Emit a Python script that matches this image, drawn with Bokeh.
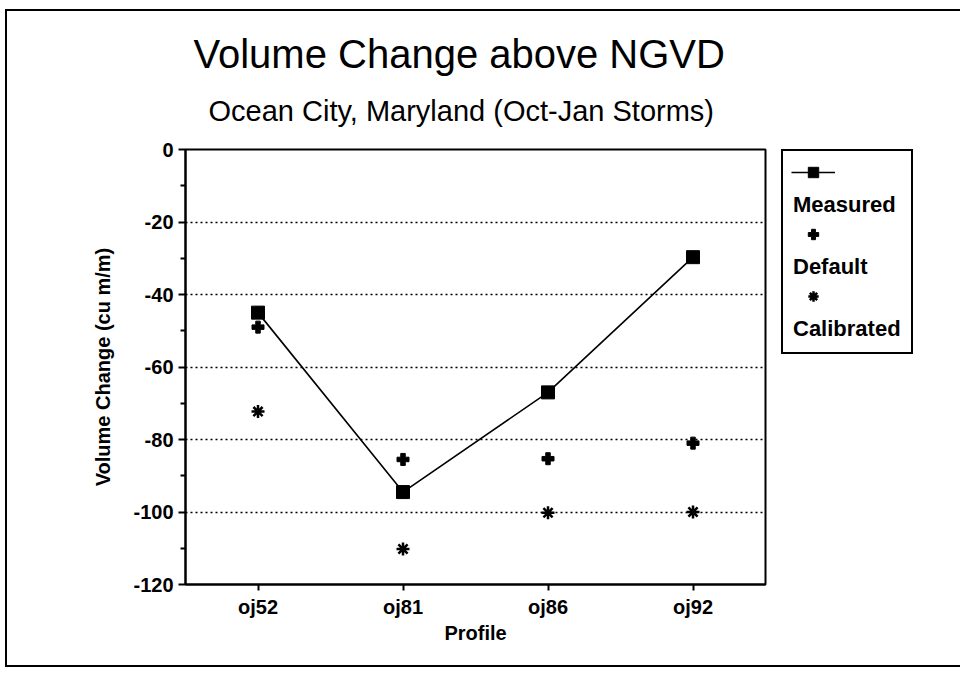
from bokeh.plotting import figure
from bokeh.layouts import row
from bokeh.models import FactorRange, Range1d, FixedTicker, Legend, LegendItem, Title
from bokeh.embed import file_html
from bokeh.resources import INLINE

profiles = ["oj52", "oj81", "oj86", "oj92"]
measured = [-45.0, -94.5, -67.0, -29.7]
default = [-49.0, -85.5, -85.3, -81.0]
calibrated = [-72.3, -110.2, -100.2, -100.0]
series_names = ["Measured", "Default", "Calibrated"]
y_ticks = [0, -20, -40, -60, -80, -100, -120]
y_minor = [-10, -30, -50, -70, -90, -110]
grid_ticks = [-20, -40, -60, -80, -100]

FONT = "Liberation Sans"
NAN = float("nan")

p = figure(x_range=FactorRange(*profiles, range_padding=0), y_range=Range1d(-120, 0),
           width=775, height=673, output_backend="svg", toolbar_location=None,
           title=None, min_border_left=185, min_border_right=10,
           min_border_top=149, min_border_bottom=89)

p.add_layout(Title(text="Ocean City, Maryland (Oct-Jan Storms)", text_font=FONT,
                   text_font_size="29px", text_font_style="normal", text_color="black",
                   align="left", offset=23, standoff=45), "above")
p.add_layout(Title(text="Volume Change above NGVD", text_font=FONT,
                   text_font_size="40px", text_font_style="normal", text_color="black",
                   align="left", offset=8, standoff=-10), "above")

p.outline_line_color = "black"
p.outline_line_width = 2
p.background_fill_color = "white"
p.border_fill_color = None

p.xgrid.visible = False
p.ygrid.ticker = FixedTicker(ticks=grid_ticks)
p.ygrid.grid_line_color = "black"
p.ygrid.grid_line_dash = "2 3"
p.ygrid.grid_line_width = 1.3

p.yaxis.ticker = FixedTicker(ticks=y_ticks, minor_ticks=y_minor)
p.yaxis.major_label_overrides = {t: str(t) for t in y_ticks}
for ax in (p.xaxis, p.yaxis):
    ax.axis_line_width = 2
    ax.axis_line_color = "black"
    ax.major_tick_in = 0
    ax.major_tick_out = 7
    ax.major_tick_line_width = 2
    ax.minor_tick_in = 0
    ax.minor_tick_out = 5
    ax.minor_tick_line_width = 2
    ax.major_label_text_font = FONT
    ax.major_label_text_font_style = "bold"
    ax.major_label_text_font_size = "20px"
    ax.major_label_text_color = "black"
    ax.axis_label_text_font = FONT
    ax.axis_label_text_font_style = "bold"
    ax.axis_label_text_font_size = "20px"
    ax.axis_label_text_color = "black"
p.xaxis.major_tick_out = 6
p.yaxis.major_label_standoff = 5
p.xaxis.major_label_standoff = 5
p.yaxis.axis_label = "Volume Change (cu m/m)"
p.xaxis.axis_label = "Profile"
p.yaxis.axis_label_standoff = 16
p.xaxis.axis_label_standoff = 1

LINE_STYLE = dict(line_color="black", line_width=1.6)
SQ_STYLE = dict(marker="square", size=13, fill_color="black", line_color="black")
PLUS_STYLE = dict(marker="plus", size=12, fill_color="black", line_color="black")
AST_STYLE = dict(marker="asterisk", size=13, line_color="black", line_width=2.5)

p.line(profiles, measured, **LINE_STYLE)
p.scatter(profiles, measured, **SQ_STYLE)
p.scatter(profiles, default, **PLUS_STYLE)
p.scatter(profiles, calibrated, **AST_STYLE)

# legend panel (same frame height as the main plot)
pl = figure(width=185, height=673, x_range=Range1d(0, 1), y_range=Range1d(0, 1),
            x_axis_type=None, y_axis_type=None, output_backend="svg",
            toolbar_location=None, title=None, min_border_left=6, min_border_right=20,
            min_border_top=149, min_border_bottom=89)
pl.outline_line_alpha = 0
pl.background_fill_color = None
pl.border_fill_color = None

# style proxies (no visible data) for the legend keys
k_line = pl.line(x=[NAN], y=[NAN], **LINE_STYLE)
k_sq = pl.scatter(x=[NAN], y=[NAN], **SQ_STYLE)
k_plus = pl.scatter(x=[NAN], y=[NAN], **PLUS_STYLE)
k_ast = pl.scatter(x=[NAN], y=[NAN], **AST_STYLE)
keys = [[k_line, k_sq], [k_plus], [k_ast]]

glyph_items, label_items = [], []
for name, rs in zip(series_names, keys):
    glyph_items += [LegendItem(label="", renderers=rs), LegendItem(label="", renderers=[])]
    label_items += [LegendItem(label="", renderers=[]), LegendItem(label=name, renderers=[])]

def make_legend(items, gw, boxed):
    lg = Legend(items=items, location="top_left")
    lg.glyph_width = gw
    lg.glyph_height = 26
    lg.label_height = 26
    lg.label_standoff = 0
    lg.spacing = 5
    lg.padding = 10
    lg.margin = 0
    lg.border_line_color = "black"
    lg.border_line_width = 2
    lg.border_line_alpha = 1 if boxed else 0
    lg.background_fill_alpha = 0
    lg.label_text_font = FONT
    lg.label_text_font_style = "bold"
    lg.label_text_font_size = "22px"
    lg.label_text_color = "black"
    return lg

pl.add_layout(make_legend(label_items, 0, True), "center")
pl.add_layout(make_legend(glyph_items, 44, False), "center")

layout = row(p, pl)
layout.styles = {
    "background": ("linear-gradient(#000,#000) 5px 9px / 2px 658px no-repeat, "
                   "linear-gradient(#000,#000) 5px 9px / 100% 2px no-repeat, "
                   "linear-gradient(#000,#000) 5px 665px / 100% 2px no-repeat, #fff"),
}

open("out.html", "w").write(file_html(layout, INLINE))
